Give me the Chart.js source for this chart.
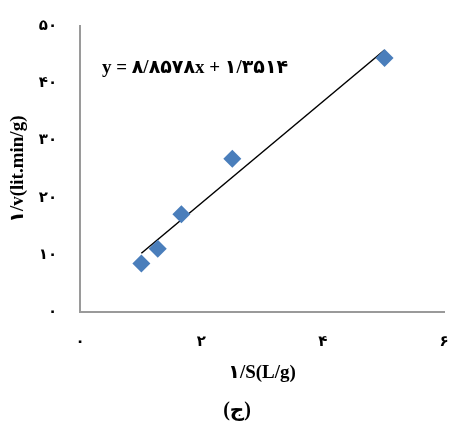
<!DOCTYPE html>
<html>
<head>
<meta charset="utf-8">
<script src="https://cdn.jsdelivr.net/npm/chart.js@4/dist/chart.umd.min.js"></script>
<style>
  html, body { margin: 0; padding: 0; background: #fff; overflow: hidden; }
</style>
</head>
<body>
<canvas id="kineticChart" width="453" height="424"></canvas>
<script>
// values
const pointsX = [1.01, 1.28, 1.67, 2.51, 5.02];
const pointsY = [8.5, 11.1, 17.1, 26.8, 44.4];
const trendX = [1.01, 5.02];
const trendY = [10.3, 45.8];
const xTicks = [0, 2, 4, 6];
const yTicks = [0, 10, 20, 30, 40, 50];
const equationText = 'y = ۸/۸۵۷۸x + ۱/۳۵۱۴';
const captionText = '(ج)';

const faDigits = '۰۱۲۳۴۵۶۷۸۹';
function toFa(n) {
  return String(n).replace(/[0-9]/g, d => faDigits[d]);
}

const serif = "'Liberation Serif', 'DejaVu Serif', 'DejaVu Sans', serif";

// equation of the trend line + the figure caption under the chart
const extraText = {
  id: 'extraText',
  afterDatasetsDraw(chart) {
    const { ctx, scales } = chart;
    ctx.save();
    ctx.font = 'bold 19px ' + serif;
    ctx.fillStyle = '#000';
    ctx.textBaseline = 'middle';
    ctx.textAlign = 'left';
    ctx.fillText(equationText, scales.x.getPixelForValue(0.36), scales.y.getPixelForValue(42.7));
    ctx.font = 'bold 20px ' + serif;
    ctx.textAlign = 'center';
    ctx.fillText(captionText, 237, 411);
    ctx.restore();
  }
};

const ctx = document.getElementById('kineticChart').getContext('2d');
const kineticChart = new Chart(ctx, {
  type: 'scatter',
  data: {
    datasets: [
      {
        label: 'data',
        data: pointsX.map((x, i) => ({ x: x, y: pointsY[i] })),
        pointStyle: 'rectRot',
        pointRadius: 9,
        pointHoverRadius: 9,
        backgroundColor: '#4A7EBB',
        borderColor: '#4A7EBB',
        borderWidth: 0,
        order: 1
      }, {
        label: 'trend',
        data: trendX.map((x, i) => ({ x: x, y: trendY[i] })),
        type: 'line',
        showLine: true,
        pointRadius: 0,
        borderColor: '#000',
        borderWidth: 1.5,
        fill: false,
        order: 2
      }
    ]
  },
  options: {
    responsive: false,
    animation: false,
    layout: { padding: { top: 26, right: 0, left: 7, bottom: 40 } },
    plugins: {
      legend: { display: false },
      tooltip: { enabled: false }
    },
    scales: {
      x: {
        type: 'linear',
        min: 0,
        max: 6,
        afterBuildTicks: s => { s.ticks = xTicks.map(v => ({ value: v })); },
        ticks: {
          callback: v => toFa(v),
          color: '#000',
          padding: 2,
          maxRotation: 0,
          font: { family: serif, size: 15, weight: 'bold' }
        },
        grid: { display: false, drawTicks: true, tickLength: 19 },
        border: { display: true, color: '#9a9a9a', width: 2 },
        title: {
          display: true,
          text: '۱/S(L/g)',
          color: '#000',
          padding: { top: 8, bottom: 0 },
          font: { family: serif, size: 19, weight: 'bold' }
        }
      },
      y: {
        min: 0,
        max: 50,
        afterBuildTicks: s => { s.ticks = yTicks.map(v => ({ value: v })); },
        ticks: {
          callback: v => toFa(v),
          color: '#000',
          padding: 2,
          font: { family: serif, size: 15, weight: 'bold' }
        },
        grid: { display: false, drawTicks: true, tickLength: 21 },
        border: { display: true, color: '#9a9a9a', width: 2 },
        title: {
          display: true,
          text: '۱/v(lit.min/g)',
          color: '#000',
          padding: { top: 0, bottom: 7 },
          font: { family: serif, size: 19, weight: 'bold' }
        }
      }
    }
  },
  plugins: [extraText]
});
</script>
</body>
</html>
